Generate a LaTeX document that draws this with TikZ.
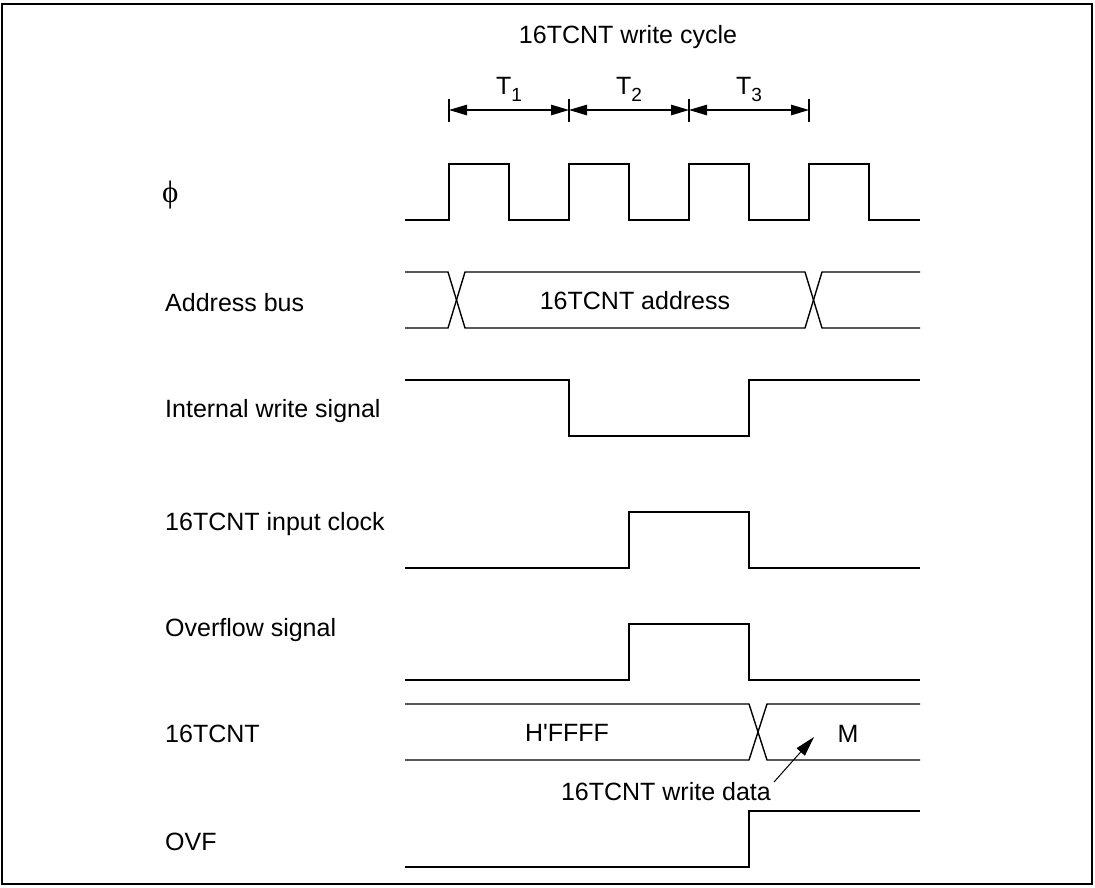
\documentclass[tikz,border=0pt]{standalone}
\usepackage{fontspec}
\setmainfont[Ligatures=TeXOff]{Liberation Sans}
\newfontfamily\phifont{Liberation Serif}
\usetikzlibrary{arrows.meta}
\begin{document}
\begin{tikzpicture}[x=1pt,y=-1pt,
  sig/.style={line width=1.4pt},
  lbl/.style={font=\fontsize{25}{30}\selectfont, inner sep=0pt},
  dimtip/.tip={Triangle[length=18pt,width=10.5pt]},
  dim/.style={line width=1.1pt, arrows={dimtip-dimtip}},
  ptr/.style={line width=1pt, arrows={-Triangle[length=20pt,width=11pt]}},
  tick/.style={line width=1.1pt}]
\useasboundingbox (0,0) rectangle (1095,887);
\draw[line width=2pt] (2,4) rectangle (1092,884);
% title
\node[lbl] (title) at (628,37) {16TCNT write cycle};
% T ticks
\foreach \x in {449,569,689,809} \draw[tick] (\x,99) -- (\x,122);
\coordinate (a1) at (449,110); \coordinate (a2) at (569,110);
\coordinate (a3) at (689,110); \coordinate (a4) at (809,110);
\draw[dim] (a1) -- (a2);
\draw[dim] (a2) -- (a3);
\draw[dim] (a3) -- (a4);
\node[lbl,anchor=base] (t1) at (509,94) {T\raisebox{-7pt}{\fontsize{19}{20}\selectfont 1}};
\node[lbl,anchor=base] (t2) at (629,94) {T\raisebox{-7pt}{\fontsize{19}{20}\selectfont 2}};
\node[lbl,anchor=base] (t3) at (749,94) {T\raisebox{-7pt}{\fontsize{19}{20}\selectfont 3}};
% left labels
\node[lbl,anchor=west] (lphi) at (162,195) {\phifont\fontsize{31}{32}\selectfont ϕ};
\node[lbl,anchor=west] (laddr) at (165,303) {Address bus};
\node[lbl,anchor=west] (lwr) at (165,411) {Internal write signal};
\node[lbl,anchor=west] (lclk) at (165,524) {16TCNT input clock};
\node[lbl,anchor=west] (lovs) at (165,630) {Overflow signal};
\node[lbl,anchor=west] (lcnt) at (165,734) {16TCNT};
\node[lbl,anchor=west] (lovf) at (165,842) {OVF};
% phi clock
\draw[sig] (405,220) -- (449,220) -- (449,164) -- (509,164) -- (509,220)
  -- (569,220) -- (569,164) -- (629,164) -- (629,220)
  -- (689,220) -- (689,164) -- (749,164) -- (749,220)
  -- (809,220) -- (809,164) -- (869,164) -- (869,220) -- (920,220);
% address bus
\draw[sig] (405,272) -- (448,272) -- (465,328) -- (805,328) -- (822,272) -- (920,272);
\draw[sig] (405,328) -- (448,328) -- (465,272) -- (805,272) -- (822,328) -- (920,328);
\node[lbl] (addr) at (635,301) {16TCNT address};
% internal write
\draw[sig] (405,380) -- (569,380) -- (569,436) -- (749,436) -- (749,380) -- (920,380);
% input clock
\draw[sig] (405,568) -- (629,568) -- (629,512) -- (749,512) -- (749,568) -- (920,568);
% overflow signal
\draw[sig] (405,680) -- (629,680) -- (629,624) -- (749,624) -- (749,680) -- (920,680);
% 16TCNT
\draw[sig] (405,704) -- (749,704) -- (767,760) -- (920,760);
\draw[sig] (405,760) -- (749,760) -- (767,704) -- (920,704);
\node[lbl] (ffff) at (567,733) {H'FFFF};
\node[lbl] (m) at (848,734) {M};
\node[lbl,anchor=base east] (wdata) at (771,800) {16TCNT write data};
\coordinate (wtail) at (774,782);
\coordinate (wtip) at (814,737);
\draw[ptr] (wtail) -- (wtip);
% OVF
\draw[sig] (405,867) -- (749,867) -- (749,811) -- (920,811);
\end{tikzpicture}
\end{document}
